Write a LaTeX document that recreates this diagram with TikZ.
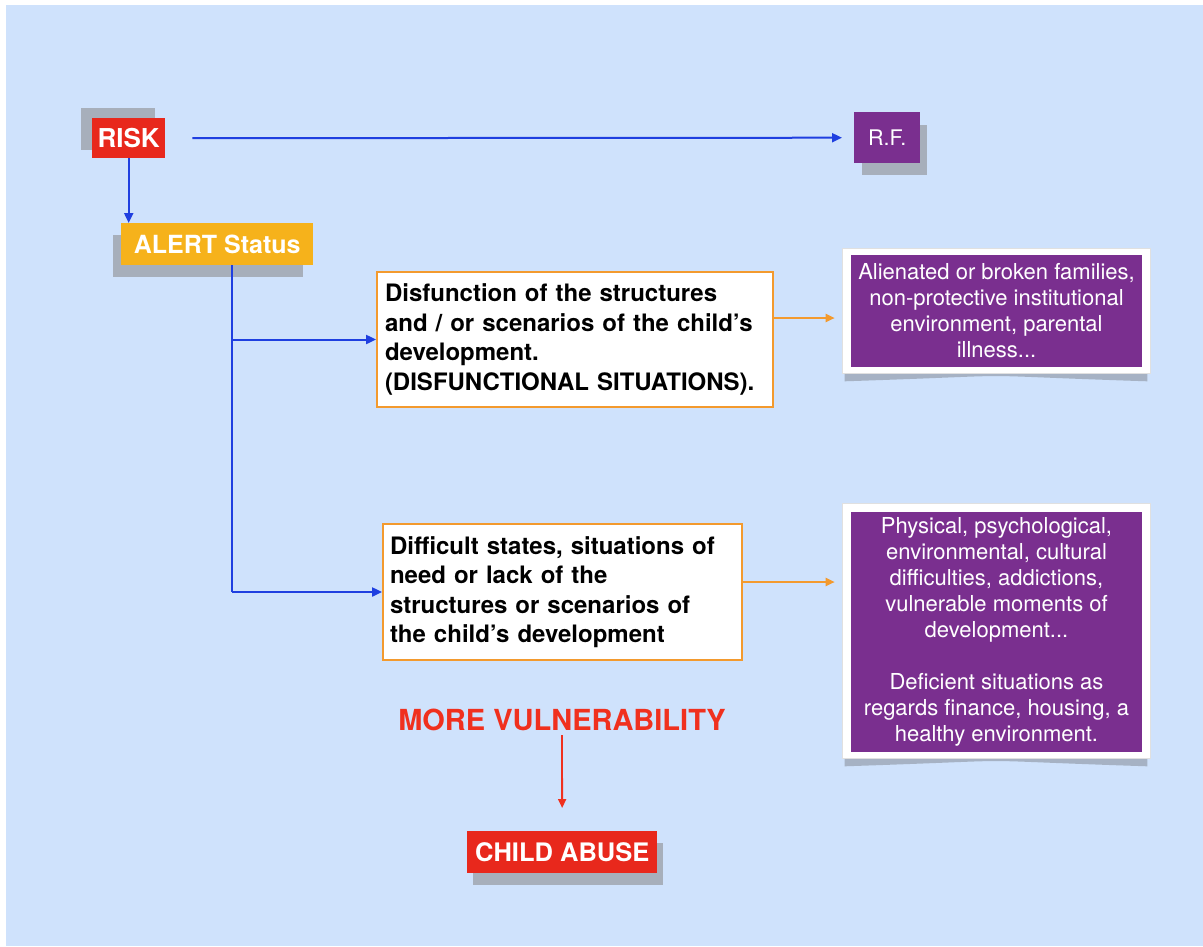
\documentclass[tikz,border=0pt]{standalone}
\usepackage{fontspec}
\setmainfont{TeX Gyre Heros}
\usetikzlibrary{arrows.meta,calc}
\definecolor{bgblue}{HTML}{CFE2FC}
\definecolor{riskred}{HTML}{E8281C}
\definecolor{alertorange}{HTML}{F6B21B}
\definecolor{rfpurple}{HTML}{7A2F8F}
\definecolor{shadowgray}{HTML}{A7AFBB}
\definecolor{lineblue}{HTML}{1F3FE0}
\definecolor{lineorange}{HTML}{F39A2E}
\definecolor{vulnred}{HTML}{F0301E}
\tikzset{
  tagbox/.style={inner sep=0pt, anchor=north west, text=white, font=\bfseries},
  shadowbox/.style={fill=shadowgray},
  textbox/.style={draw=lineorange, line width=1.8pt, fill=white, inner xsep=8pt, inner ysep=0pt, align=left, font=\fontsize{24}{29.5}\selectfont\bfseries},
  frame/.style={fill=white, draw=black!12, line width=0.6pt, inner sep=0pt},
  purplebox/.style={fill=rfpurple, text=white, inner sep=0pt, align=center, font=\fontsize{22}{26}\selectfont},
  bluearrow/.style={draw=lineblue, line width=2pt, -{Triangle[length=10pt,width=9pt]}},
  bluerule/.style={draw=lineblue, line width=2pt},
  orangearrow/.style={draw=lineorange, line width=2pt, -{Triangle[length=9pt,width=8pt]}},
  redarrow/.style={draw=vulnred, line width=1.8pt, -{Triangle[length=9pt,width=8pt]}},
}
\begin{document}
\begin{tikzpicture}[x=1pt,y=-1pt]
\useasboundingbox (0,0) rectangle (1203,946);
\fill[white] (0,0) rectangle (1203,946);
\fill[bgblue] (6,5) rectangle (1203,946);

% shadows of tag boxes
\fill[shadowbox] (81,108) rectangle (155,150);
\fill[shadowbox] (113,235) rectangle (303,277);
\fill[shadowbox] (862,125) rectangle (927,175);
\fill[shadowbox] (473,843) rectangle (663,885);

% tag boxes
\node[tagbox, fill=riskred, minimum width=73pt, minimum height=40pt, font=\fontsize{26}{30}\selectfont\bfseries] (risk) at (92,118) {RISK};
\node[tagbox, fill=alertorange, minimum width=192pt, minimum height=42pt, font=\fontsize{25}{30}\selectfont\bfseries] (alert) at (121,223) {ALERT Status};
\node[tagbox, fill=rfpurple, minimum width=66pt, minimum height=51pt, font=\fontsize{21.5}{25}\selectfont] (rf) at (854,112) {R.F.};
\node[tagbox, fill=riskred, minimum width=190pt, minimum height=42pt, font=\fontsize{25.5}{30}\selectfont\bfseries] (child) at (467,831) {CHILD ABUSE};

% middle text boxes
\node[textbox, text width=380pt, minimum height=135pt] (b1) at (575,339.5)
  {Disfunction of the structures\\and / or scenarios of the child’s\\development.\\(DISFUNCTIONAL SITUATIONS).};
\node[textbox, text width=345pt, inner xsep=7pt, minimum height=136pt] (b2) at (562.5,592)
  {Difficult states, situations of\\need or lack of the\\structures or scenarios of\\the child’s development};

% purple boxes with frames and curled shadows
\node[frame, minimum width=308pt, minimum height=125pt] (pf1) at (996,310.5) {};
\node[frame, minimum width=308pt, minimum height=255pt] (pf2) at (996,630.5) {};
\fill[shadowgray!80!black, opacity=0.55] ([xshift=3pt,yshift=3pt]pf1.south west) -- ([xshift=-3pt,yshift=3pt]pf1.south east) -- ([xshift=-3pt,yshift=-8pt]pf1.south east) .. controls ([xshift=-60pt,yshift=-1pt]pf1.south) and ([xshift=60pt,yshift=-1pt]pf1.south) .. ([xshift=3pt,yshift=-8pt]pf1.south west) -- cycle;
\fill[shadowgray!80!black, opacity=0.55] ([xshift=3pt,yshift=3pt]pf2.south west) -- ([xshift=-3pt,yshift=3pt]pf2.south east) -- ([xshift=-3pt,yshift=-8pt]pf2.south east) .. controls ([xshift=-60pt,yshift=-1pt]pf2.south) and ([xshift=60pt,yshift=-1pt]pf2.south) .. ([xshift=3pt,yshift=-8pt]pf2.south west) -- cycle;
\node[frame, minimum width=308pt, minimum height=125pt] at (pf1) {};
\node[frame, minimum width=308pt, minimum height=255pt] at (pf2) {};
\node[purplebox, minimum width=291pt, minimum height=112pt] (p1) at (996.5,311)
  {Alienated or broken families,\\non-protective institutional\\environment, parental\\illness...};
\node[purplebox, minimum width=291pt, minimum height=240pt] (p2) at (996.5,632)
  {Physical, psychological,\\environmental, cultural\\difficulties, addictions,\\vulnerable moments of\\development...\\[26pt]Deficient situations as\\regards finance, housing, a\\healthy environment.};

% more vulnerability
\node[text=vulnred, font=\fontsize{29}{34}\selectfont\bfseries, inner sep=0pt] (mv) at (562,720) {MORE VULNERABILITY};

% connectors
\coordinate (trunk) at (232,400);
\coordinate (y1) at (0,318);
\coordinate (y2) at (0,582);
\draw[bluearrow] (risk.south) -- (risk.south |- alert.north);
\draw[bluearrow, shorten <=27pt, shorten >=12pt] (risk.east) -- (rf.west);
\draw[bluerule] (alert.south -| trunk) -- (trunk |- b2.west);
\draw[bluearrow] (trunk |- b2.west) -- (b2.west);
\draw[bluearrow] (trunk |- b1.west) -- (b1.west);
\draw[orangearrow, shorten >=7pt] (b1.east |- y1) -- (pf1.west |- y1);
\draw[orangearrow, shorten >=7pt] (b2.east |- y2) -- (pf2.west |- y2);
\draw[redarrow, shorten <=4pt, shorten >=23pt] (mv.south) -- (child.north);
\end{tikzpicture}
\end{document}
